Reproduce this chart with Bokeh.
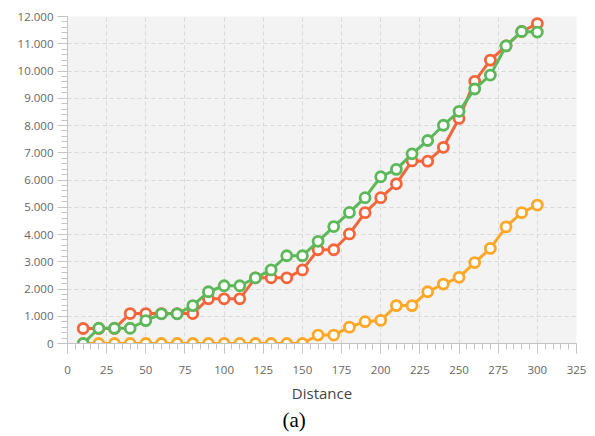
from bokeh.plotting import figure
from bokeh.models import FixedTicker, Range1d, Title, ColumnDataSource
from bokeh.embed import file_html
from bokeh.resources import INLINE

# ---- data ----
distance = [10, 20, 30, 40, 50, 60, 70, 80, 90, 100, 110, 120, 130, 140, 150,
            160, 170, 180, 190, 200, 210, 220, 230, 240, 250, 260, 270, 280, 290, 300]
series_red = [550, 550, 550, 1100, 1100, 1100, 1100, 1100, 1640, 1640, 1640, 2410, 2410, 2410, 2700,
              3440, 3440, 4020, 4800, 5350, 5860, 6700, 6690, 7200, 8260, 9620, 10400, 10920, 11450, 11740]
series_green = [0, 560, 560, 560, 840, 1090, 1090, 1390, 1900, 2120, 2120, 2410, 2700, 3220, 3220,
                3750, 4290, 4810, 5350, 6120, 6390, 6960, 7450, 8010, 8520, 9340, 9850, 10920, 11450, 11430]
series_yellow = [0, 0, 0, 0, 0, 0, 0, 0, 0, 0, 0, 0, 0, 0, 0,
                 310, 310, 600, 800, 850, 1390, 1390, 1900, 2180, 2430, 2970, 3490, 4280, 4800, 5080]

x_ticks = [0, 25, 50, 75, 100, 125, 150, 175, 200, 225, 250, 275, 300, 325]
y_ticks = [0, 1000, 2000, 3000, 4000, 5000, 6000, 7000, 8000, 9000, 10000, 11000, 12000]
y_tick_labels = ["0", "1.000", "2.000", "3.000", "4.000", "5.000", "6.000", "7.000",
                 "8.000", "9.000", "10.000", "11.000", "12.000"]
x_label = "Distance"
caption = "(a)"

colors = {"red": "#f5653a", "green": "#5db85a", "yellow": "#ffa726"}

p = figure(width=595, height=436, output_backend="svg", toolbar_location=None,
           x_range=Range1d(0, 325), y_range=Range1d(0, 12000),
           min_border_left=67, min_border_right=19, min_border_top=16, min_border_bottom=93)
p.background_fill_color = "#f3f3f3"
p.border_fill_color = "white"
p.outline_line_color = None

for ax in (p.xaxis[0], p.yaxis[0]):
    ax.axis_line_color = "#c4c4c4"
    ax.major_tick_line_color = "#c4c4c4"
    ax.minor_tick_line_color = "#c4c4c4"
    ax.major_tick_out = 10
    ax.major_tick_in = 0
    ax.minor_tick_out = 6
    ax.minor_tick_in = 0
    ax.major_label_text_font = "Open Sans"
    ax.major_label_text_font_size = "11.5px"
    ax.major_label_text_color = "#666666"

p.xaxis.ticker = FixedTicker(ticks=x_ticks, minor_ticks=list(range(0, 326, 5)))
p.yaxis.ticker = FixedTicker(ticks=y_ticks, minor_ticks=list(range(0, 12001, 200)))
p.yaxis.major_label_overrides = {t: l for t, l in zip(y_ticks, y_tick_labels)}
p.yaxis.major_label_standoff = 4
p.xaxis.major_label_standoff = 12

p.xaxis.axis_label = x_label
p.xaxis.axis_label_text_font = "Open Sans"
p.xaxis.axis_label_text_font_style = "normal"
p.xaxis.axis_label_text_font_size = "15px"
p.xaxis.axis_label_text_color = "#444444"
p.xaxis.axis_label_standoff = 6

p.grid.grid_line_color = "#d8d8d8"
p.grid.grid_line_dash = "4 3"
p.grid.grid_line_width = 1

for ys, c in ((series_yellow, colors["yellow"]), (series_red, colors["red"]), (series_green, colors["green"])):
    src = ColumnDataSource(dict(x=distance, y=ys))
    p.line("x", "y", source=src, line_color=c, line_width=3)
    p.scatter("x", "y", source=src, size=10, fill_color="white", line_color=c, line_width=2.8)

p.add_layout(Title(text=caption, align="left", offset=215, standoff=0,
                   text_font="Liberation Serif", text_font_style="normal",
                   text_font_size="21px", text_color="black"), "below")

open("out.html", "w").write(file_html(p, INLINE))
